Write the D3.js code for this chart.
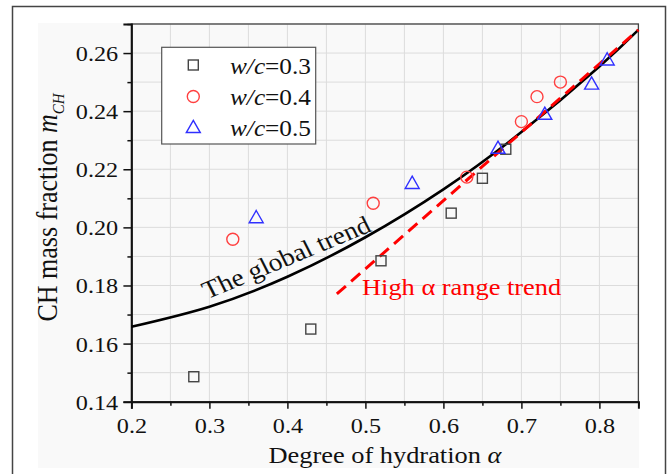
<!DOCTYPE html>
<html lang="en">
<head>
<meta charset="UTF-8">
<title>CH mass fraction vs degree of hydration</title>
<script src="https://d3js.org/d3.v7.min.js"></script>
<style>
    body { margin: 0; background: #fff; }
    svg text { font-family: "Liberation Serif", "Times New Roman", Times, serif; fill: #111; }
    .grid line { stroke: #dcdcdc; stroke-width: 1; }
</style>
</head>
<body>
<svg id="chart" width="668" height="474"></svg>
<script>
    const wc03X = [0.28, 0.43, 0.52, 0.61, 0.65, 0.68];
    const wc03Y = [0.1486, 0.165, 0.1885, 0.2049, 0.2169, 0.2269];
    const wc04X = [0.33, 0.51, 0.63, 0.70, 0.72, 0.75];
    const wc04Y = [0.1959, 0.2083, 0.2173, 0.2364, 0.245, 0.250];
    const wc05X = [0.36, 0.56, 0.67, 0.73, 0.79, 0.81];
    const wc05Y = [0.2034, 0.2152, 0.2273, 0.239, 0.2494, 0.2577];

    // trend lines, points
    const globalX = [0.2, 0.3, 0.4, 0.5, 0.6, 0.7, 0.8, 0.85];
    const globalY = [0.1658, 0.1727, 0.1830, 0.1966, 0.2131, 0.2328, 0.2554, 0.268];
    const highX = [0.4634, 0.85];
    const highY = [0.1771, 0.268];

    const xTicks = [0.2, 0.3, 0.4, 0.5, 0.6, 0.7, 0.8];
    const yTicks = [0.14, 0.16, 0.18, 0.20, 0.22, 0.24, 0.26];
    const legendLabels = ["0.3", "0.4", "0.5"];

    const serif = "'Liberation Serif', 'Times New Roman', Times, serif";
    const stretch = 1.1; // the figure is a little wider than tall
    const margin = { left: 131.4, right: 638.4, top: 24, bottom: 401.7 };
    const svg = d3.select("#chart");

    const x = d3.scaleLinear().domain([0.2, 0.85]).range([margin.left, margin.right]);
    const y = d3.scaleLinear().domain([0.14, 0.27]).range([margin.bottom, margin.top]);

    // outer frame and figure background
    svg.append("rect").attr("x", 12.5).attr("y", 6.5).attr("width", 653).attr("height", 480)
        .attr("fill", "#fff").attr("stroke", "#444").attr("stroke-width", 1.5);
    svg.append("rect").attr("x", 38).attr("y", 23).attr("width", 601).attr("height", 445)
        .attr("fill", "#f9f9f9");

    // grid
    const xMinor = d3.range(0.2, 0.8501, 0.05);
    const yMinor = d3.range(0.14, 0.2701, 0.01);
    const grid = svg.append("g").attr("class", "grid");
    grid.selectAll(".gx").data(xMinor.slice(1)).join("line")
        .attr("x1", d => x(d)).attr("x2", d => x(d))
        .attr("y1", margin.top).attr("y2", margin.bottom);
    grid.selectAll(".gy").data(yMinor.slice(1)).join("line")
        .attr("x1", margin.left).attr("x2", margin.right)
        .attr("y1", d => y(d)).attr("y2", d => y(d));

    // top / right border
    svg.append("rect").attr("x", margin.left).attr("y", margin.top)
        .attr("width", margin.right - margin.left).attr("height", margin.bottom - margin.top)
        .attr("fill", "none").attr("stroke", "#444").attr("stroke-width", 1.3);

    // axes
    svg.append("g").attr("transform", `translate(0,${margin.bottom})`)
        .call(d3.axisBottom(x).tickValues(xTicks).tickFormat(d3.format(".1f")).tickSize(7).tickPadding(9));
    svg.append("g").attr("transform", `translate(0,${margin.bottom})`)
        .call(d3.axisBottom(x).tickValues(xMinor.filter((d, i) => i % 2 === 1)).tickFormat("").tickSize(4))
        .select(".domain").remove();
    const yAxis = svg.append("g").attr("transform", `translate(${margin.left},0)`)
        .call(d3.axisLeft(y).tickValues(yTicks).tickFormat(d3.format(".2f")).tickSize(8).tickPadding(4));
    svg.append("g").attr("transform", `translate(${margin.left},0)`)
        .call(d3.axisLeft(y).tickValues(yMinor.filter((d, i) => i % 2 === 1)).tickFormat("").tickSize(4))
        .select(".domain").remove();

    svg.selectAll(".domain").attr("stroke", "#111").attr("stroke-width", 2);
    svg.selectAll(".tick line").attr("stroke", "#111").attr("stroke-width", 1.5);
    svg.selectAll("g").filter(function () { return this.getAttribute("font-family"); })
        .attr("font-family", serif);
    svg.selectAll(".tick text").attr("font-size", 22).attr("font-family", serif)
        .attr("fill", "#111").attr("transform", `scale(${stretch},1)`);
    yAxis.selectAll(".tick text").attr("dy", "0.34em");

    // axis titles
    const xt = svg.append("text")
        .attr("transform", `translate(${(margin.left + margin.right) / 2},463) scale(${stretch},1)`)
        .attr("text-anchor", "middle").attr("font-size", 24);
    xt.append("tspan").text("Degree of hydration ");
    xt.append("tspan").attr("font-style", "italic").text("α");

    const yt = svg.append("text")
        .attr("transform", `translate(57,207.5) scale(${stretch},1) rotate(-90)`)
        .attr("text-anchor", "middle").attr("font-size", 26);
    yt.append("tspan").text("CH mass fraction ");
    yt.append("tspan").attr("font-style", "italic").text("m");
    yt.append("tspan").attr("font-style", "italic").attr("font-size", 15).attr("dy", 6).text("CH");

    // trend lines
    svg.append("path").datum(d3.zip(globalX, globalY))
        .attr("d", d3.line().x(d => x(d[0])).y(d => y(d[1])).curve(d3.curveNatural))
        .attr("fill", "none").attr("stroke", "#000").attr("stroke-width", 2.6);
    svg.append("path").datum(d3.zip(highX, highY))
        .attr("d", d3.line().x(d => x(d[0])).y(d => y(d[1])))
        .attr("fill", "none").attr("stroke", "#ff0000").attr("stroke-width", 3)
        .attr("stroke-dasharray", "12,7");

    // markers
    const sq = 10, cr = 6, tr = 7;
    svg.append("g").selectAll("rect").data(d3.zip(wc03X, wc03Y)).join("rect")
        .attr("x", d => x(d[0]) - sq / 2).attr("y", d => y(d[1]) - sq / 2)
        .attr("width", sq).attr("height", sq)
        .attr("fill", "none").attr("stroke", "#444").attr("stroke-width", 1.4);
    svg.append("g").selectAll("circle").data(d3.zip(wc04X, wc04Y)).join("circle")
        .attr("cx", d => x(d[0])).attr("cy", d => y(d[1])).attr("r", cr)
        .attr("fill", "none").attr("stroke", "#ff4040").attr("stroke-width", 1.4);
    const triPath = (cx, cy) => `M${cx},${cy - tr}L${cx + tr},${cy + tr * 0.75}L${cx - tr},${cy + tr * 0.75}Z`;
    svg.append("g").selectAll("path").data(d3.zip(wc05X, wc05Y)).join("path")
        .attr("d", d => triPath(x(d[0]), y(d[1])))
        .attr("fill", "none").attr("stroke", "#3030ff").attr("stroke-width", 1.4);

    // curve labels
    svg.append("text").attr("transform", `translate(290,265) scale(${stretch},1) rotate(-24.5)`)
        .attr("text-anchor", "middle").attr("font-size", 25).text("The global trend");
    svg.append("text").attr("transform", `translate(362,295) scale(${stretch},1)`).attr("font-size", 24)
        .style("fill", "#ff0000").text("High α range trend");

    // legend
    const lg = svg.append("g");
    lg.append("rect").attr("x", 161.7).attr("y", 47.3).attr("width", 154).attr("height", 96.7)
        .attr("fill", "#fff").attr("stroke", "#555").attr("stroke-width", 1.2);
    const rowY = [65, 96.5, 127.3];
    lg.append("rect").attr("x", 193.3 - sq / 2).attr("y", rowY[0] - sq / 2).attr("width", sq).attr("height", sq)
        .attr("fill", "none").attr("stroke", "#444").attr("stroke-width", 1.4);
    lg.append("circle").attr("cx", 193.3).attr("cy", rowY[1]).attr("r", cr)
        .attr("fill", "none").attr("stroke", "#ff4040").attr("stroke-width", 1.4);
    lg.append("path").attr("d", triPath(193.3, rowY[2]))
        .attr("fill", "none").attr("stroke", "#3030ff").attr("stroke-width", 1.4);
    legendLabels.forEach((lab, i) => {
        const t = lg.append("text").attr("transform", `translate(230,${rowY[i] + 8.5}) scale(${stretch},1)`)
            .attr("font-size", 23);
        t.append("tspan").attr("font-style", "italic").text("w/c");
        t.append("tspan").text("=" + lab);
    });
</script>
</body>
</html>
